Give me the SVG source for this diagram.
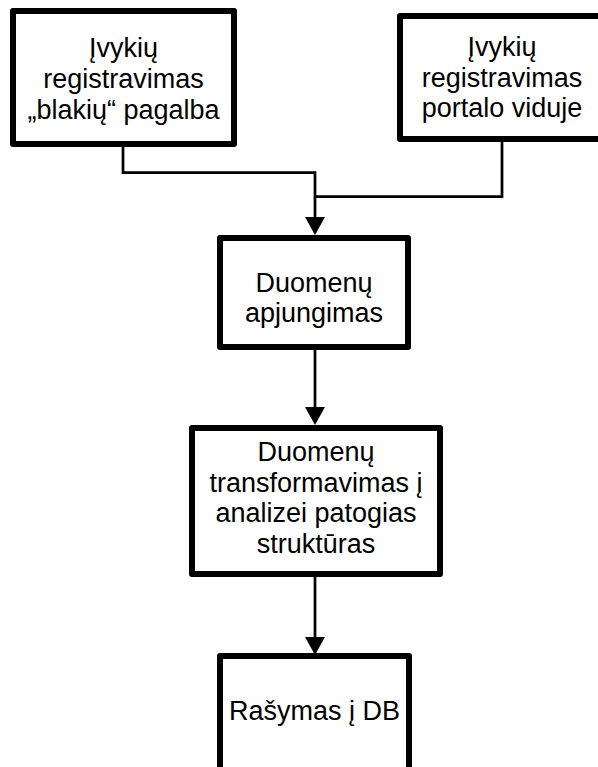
<svg xmlns="http://www.w3.org/2000/svg" width="598" height="767" viewBox="0 0 598 767">
  <defs>
    <style>
      .box { fill: #ffffff; stroke: #000000; stroke-width: 6; stroke-linejoin: round; }
      .lbl { font-family: "Liberation Sans", Arial, sans-serif; font-size: 27px; fill: #000000; text-anchor: middle; }
      .wire { fill: none; stroke: #000000; stroke-width: 2.75; }
      .head { fill: #000000; stroke: none; }
    </style>
  </defs>
  <rect width="598" height="767" fill="#ffffff"/>

  <g id="connectors">
    <polyline class="wire" points="123,147 123,172.5 315,172.5 315,218"/>
    <polyline class="wire" points="502,142 502,196.5 315,196.5"/>
    <polygon class="head" points="305,217 325,217 315,235"/>
    <line class="wire" x1="315" y1="350" x2="315" y2="408"/>
    <polygon class="head" points="305,407 325,407 315,425"/>
    <line class="wire" x1="315" y1="577" x2="315" y2="638"/>
    <polygon class="head" points="305,637 325,637 315,655"/>
  </g>

  <g id="node-blakiu">
    <rect class="box" x="13" y="11" width="221" height="133"/>
    <text class="lbl" x="123.5" y="57">Įvykių</text>
    <text class="lbl" x="123.5" y="88">registravimas</text>
    <text class="lbl" x="123.5" y="119">„blakių“ pagalba</text>
  </g>

  <g id="node-portalo">
    <rect class="box" x="400" y="16" width="204" height="123"/>
    <text class="lbl" x="502" y="56">Įvykių</text>
    <text class="lbl" x="502" y="87">registravimas</text>
    <text class="lbl" x="502" y="117">portalo viduje</text>
  </g>

  <g id="node-apjungimas">
    <rect class="box" x="220" y="238" width="188" height="109"/>
    <text class="lbl" x="314" y="292">Duomenų</text>
    <text class="lbl" x="314" y="322">apjungimas</text>
  </g>

  <g id="node-transformavimas">
    <rect class="box" x="192" y="428" width="248" height="146"/>
    <text class="lbl" x="316" y="461">Duomenų</text>
    <text class="lbl" x="316" y="492">transformavimas į</text>
    <text class="lbl" x="316" y="522">analizei patogias</text>
    <text class="lbl" x="316" y="553">struktūras</text>
  </g>

  <g id="node-rasymas">
    <rect class="box" x="220" y="656" width="189" height="120"/>
    <text class="lbl" x="314.5" y="720">Rašymas į DB</text>
  </g>
</svg>
